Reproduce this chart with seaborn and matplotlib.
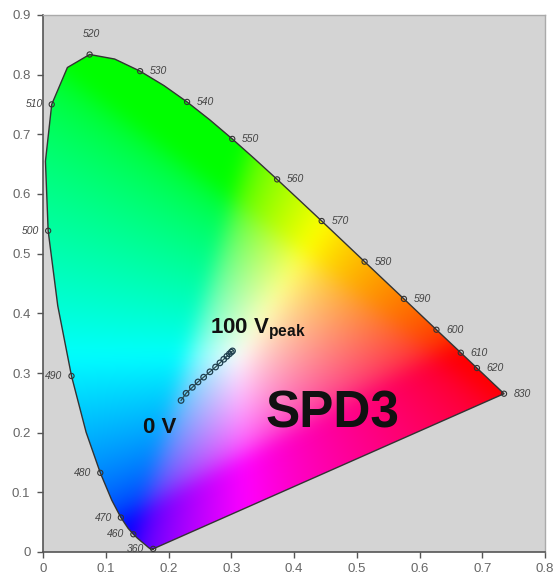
import numpy as np
import matplotlib
matplotlib.use("Agg")
import matplotlib.pyplot as plt
from matplotlib.patches import Polygon
import seaborn as sns
import pandas as pd

# ---- data ----
# CIE 1931 spectral locus (wavelength nm, x, y)
locus_wl = [360, 365, 370, 375, 380, 385, 390, 395, 400, 405, 410, 415, 420, 425, 430, 435,
            440, 445, 450, 455, 460, 465, 470, 475, 480, 485, 490, 495, 500, 505, 510, 515,
            520, 525, 530, 535, 540, 545, 550, 555, 560, 565, 570, 575, 580, 585, 590, 595,
            600, 605, 610, 615, 620, 625, 630, 635, 640, 645, 650, 655, 660, 665, 670, 675,
            680, 690, 700, 830]
locus_x = [0.1756, 0.1752, 0.1748, 0.1745, 0.1741, 0.1740, 0.1738, 0.1736, 0.1733, 0.1730,
           0.1726, 0.1721, 0.1714, 0.1703, 0.1689, 0.1669, 0.1644, 0.1611, 0.1566, 0.1510,
           0.1440, 0.1355, 0.1241, 0.1096, 0.0913, 0.0687, 0.0454, 0.0235, 0.0082, 0.0039,
           0.0139, 0.0389, 0.0743, 0.1142, 0.1547, 0.1929, 0.2296, 0.2658, 0.3016, 0.3373,
           0.3731, 0.4087, 0.4441, 0.4788, 0.5125, 0.5448, 0.5752, 0.6029, 0.6270, 0.6482,
           0.6658, 0.6801, 0.6915, 0.7006, 0.7079, 0.7140, 0.7190, 0.7230, 0.7260, 0.7283,
           0.7300, 0.7311, 0.7320, 0.7327, 0.7334, 0.7344, 0.7347, 0.7347]
locus_y = [0.0053, 0.0052, 0.0050, 0.0049, 0.0050, 0.0050, 0.0049, 0.0049, 0.0048, 0.0048,
           0.0048, 0.0048, 0.0051, 0.0058, 0.0069, 0.0086, 0.0109, 0.0138, 0.0177, 0.0227,
           0.0297, 0.0399, 0.0578, 0.0868, 0.1327, 0.2007, 0.2950, 0.4127, 0.5384, 0.6548,
           0.7502, 0.8120, 0.8338, 0.8262, 0.8059, 0.7816, 0.7543, 0.7243, 0.6923, 0.6589,
           0.6245, 0.5896, 0.5547, 0.5202, 0.4866, 0.4544, 0.4242, 0.3965, 0.3725, 0.3514,
           0.3340, 0.3197, 0.3083, 0.2993, 0.2920, 0.2859, 0.2809, 0.2770, 0.2740, 0.2717,
           0.2700, 0.2689, 0.2680, 0.2673, 0.2666, 0.2656, 0.2653, 0.2653]

label_wl = [360, 460, 470, 480, 490, 500, 510, 520, 530, 540, 550, 560, 570, 580, 590,
            600, 610, 620, 830]
left_side = [360, 460, 470, 480, 490, 500, 510]

# SPD3 chromaticity trajectory from 0 V to 100 V peak
spd_x = [0.220, 0.228, 0.238, 0.247, 0.256, 0.266, 0.275, 0.282, 0.288, 0.293, 0.297, 0.300, 0.302]
spd_y = [0.254, 0.266, 0.276, 0.285, 0.293, 0.302, 0.310, 0.317, 0.323, 0.328, 0.332, 0.335, 0.337]

xticks = [0, 0.1, 0.2, 0.3, 0.4, 0.5, 0.6, 0.7, 0.8]
yticks = [0, 0.1, 0.2, 0.3, 0.4, 0.5, 0.6, 0.7, 0.8, 0.9]

# ---- style ----
plt.rcParams['font.family'] = ['Liberation Sans', 'DejaVu Sans']
plt.rcParams['mathtext.fontset'] = 'custom'
plt.rcParams['mathtext.rm'] = 'Liberation Sans'
plt.rcParams['mathtext.bf'] = 'Liberation Sans:bold'

fig = plt.figure(figsize=(5.56, 5.80), dpi=100)
fig.patch.set_facecolor('white')
ax = fig.add_axes([43/556, 1-552/580, (545-43)/556, (552-15)/580])
ax.set_facecolor('#d4d4d4')

# ---- chromaticity colour fill ----
nx, ny = 500, 560
gx = np.linspace(0, 0.8, nx)
gy = np.linspace(0, 0.9, ny)
X, Y = np.meshgrid(gx, gy)
Yc = np.maximum(Y, 2e-3)
XX = X / Yc
ZZ = np.clip(1 - X - Y, 0, None) / Yc
YY = np.ones_like(X)
M = np.array([[3.2406, -1.5372, -0.4986],
              [-0.9689, 1.8758, 0.0415],
              [0.0557, -0.2040, 1.0570]])
rgb = np.stack([XX, YY, ZZ], axis=-1) @ M.T
rgb = np.clip(rgb, 0, None)
mx = rgb.max(axis=-1, keepdims=True)
rgb = rgb / np.maximum(mx, 1e-9)
rgb = np.where(rgb <= 0.0031308, 12.92 * rgb, 1.055 * np.power(rgb, 1/2.4) - 0.055)
rgb = np.clip(rgb, 0, 1)


def blur(img, sigma):
    r = int(3 * sigma)
    k = np.exp(-0.5 * (np.arange(-r, r + 1) / sigma) ** 2)
    k /= k.sum()
    out = img.copy()
    for axis in (0, 1):
        pad = [(0, 0)] * 3
        pad[axis] = (r, r)
        p = np.pad(out, pad, mode='edge')
        out = np.apply_along_axis(lambda v: np.convolve(v, k, mode='valid'), axis, p)
    return out


rgb = np.clip(blur(rgb, 9.0), 0, 1)
im = ax.imshow(rgb, origin='lower', extent=[0, 0.8, 0, 0.9], aspect='auto',
               interpolation='bilinear', zorder=1)
poly = Polygon(np.column_stack([locus_x, locus_y]), closed=True,
               transform=ax.transData, facecolor='none', edgecolor='none')
ax.add_patch(poly)
im.set_clip_path(poly)

# ---- locus outline ----
df_locus = pd.DataFrame({'x': locus_x + [locus_x[0]], 'y': locus_y + [locus_y[0]]})
sns.lineplot(data=df_locus, x='x', y='y', sort=False, estimator=None, ax=ax,
             color='#333333', linewidth=1.0, zorder=3)

# wavelength markers + labels
lab_x = [locus_x[locus_wl.index(w)] for w in label_wl]
lab_y = [locus_y[locus_wl.index(w)] for w in label_wl]
sns.scatterplot(x=lab_x, y=lab_y, ax=ax, marker='o', s=14, facecolors='none',
                edgecolors='#333333', linewidth=0.8, zorder=4)
for w, lx, ly in zip(label_wl, lab_x, lab_y):
    if w == 520:
        off, ha, va = (2, 20), 'center', 'center'
    elif w in left_side:
        off, ha, va = (-9, 0), 'right', 'center'
    else:
        off, ha, va = (10, 0), 'left', 'center'
    ax.annotate(str(w), (lx, ly), xytext=off, textcoords='offset pixels',
                ha=ha, va=va, fontsize=7.5, style='italic', color='#444444', zorder=5)

# ---- SPD3 trajectory ----
df_spd = pd.DataFrame({'x': spd_x, 'y': spd_y})
sns.lineplot(data=df_spd, x='x', y='y', sort=False, estimator=None, ax=ax,
             color='#2f4f4f', linewidth=0.9, zorder=5)
sns.scatterplot(data=df_spd, x='x', y='y', ax=ax, marker='o', s=16, facecolors='none',
                edgecolors='#1f3f4f', linewidth=0.9, zorder=6)

ax.text(0.266, 0.367, r'100 V$_{\mathbf{peak}}$', fontsize=16, fontweight='bold',
        color='#111111', ha='left', va='baseline', zorder=7)
ax.text(0.159, 0.199, '0 V', fontsize=16, fontweight='bold', color='#111111',
        ha='left', va='baseline', zorder=7)
ax.text(0.354, 0.209, 'SPD3', fontsize=37, fontweight='bold', color='#111111',
        ha='left', va='baseline', zorder=7)

# ---- axes ----
ax.set_xlim(0, 0.8)
ax.set_ylim(0, 0.9)
ax.set_xticks(xticks)
ax.set_xticklabels(['0' if t == 0 else f'{t:g}' for t in xticks])
ax.set_yticks(yticks)
ax.set_yticklabels(['0' if t == 0 else f'{t:g}' for t in yticks])
ax.set_xlabel('')
ax.set_ylabel('')
ax.tick_params(axis='both', colors='#555555', labelcolor='#666666', labelsize=9.5,
               length=4, width=1, direction='out')
ax.tick_params(axis='x', pad=4)
ax.tick_params(axis='y', pad=5)
for s in ['left', 'bottom']:
    ax.spines[s].set_color('#555555')
    ax.spines[s].set_linewidth(1.2)
for s in ['top', 'right']:
    ax.spines[s].set_color('#aaaaaa')
    ax.spines[s].set_linewidth(1.0)
leg = ax.get_legend()
if leg is not None:
    leg.remove()

fig.savefig('out.png', dpi=100, facecolor='white')
